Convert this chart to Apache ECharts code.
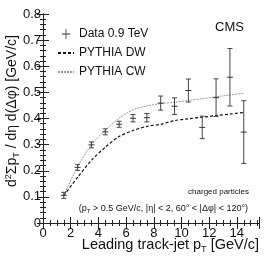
<!DOCTYPE html>
<html><head><meta charset="utf-8">
<script src="https://cdn.jsdelivr.net/npm/echarts@6/dist/echarts.min.js"></script>
<style>html,body{margin:0;padding:0;background:#fff}#c{width:269px;height:259px}</style>
</head><body><div id="c"></div>
<script>
var ptBins = [1.5, 2.5, 3.5, 4.5, 5.5, 6.5, 7.5, 8.5, 9.5, 10.5, 11.5, 12.5, 13.5, 14.5];
var dataY   = [0.106, 0.213, 0.299, 0.349, 0.378, 0.401, 0.403, 0.459, 0.447, 0.507, 0.366, 0.480, 0.558, 0.348];
var dataErr = [0.003, 0.004, 0.004, 0.005, 0.008, 0.014, 0.016, 0.027, 0.032, 0.044, 0.043, 0.072, 0.110, 0.120];
var dwY = [0.105, 0.175, 0.240, 0.290, 0.331, 0.354, 0.370, 0.378, 0.392, 0.399, 0.405, 0.411, 0.417, 0.423];
var cwY = [0.106, 0.215, 0.300, 0.355, 0.401, 0.433, 0.448, 0.457, 0.462, 0.469, 0.476, 0.483, 0.490, 0.497];
var xTickStep = 2, yTickStep = 0.1;

var FONT = 'Liberation Sans';
var chart = echarts.init(document.getElementById('c'), null, {renderer: 'canvas'});

function pairs(xs, ys) { return xs.map(function (x, i) { return [x, ys[i]]; }); }
var errData = ptBins.map(function (x, i) { return [x, dataY[i], dataErr[i]]; });

var axisCommon = {
  min: 0, axisLine: {show: true, lineStyle: {color: '#222', width: 1}},
  axisTick: {show: true, inside: true, length: 6, lineStyle: {color: '#222'}},
  splitLine: {show: false}
};
function ax(extra) { return Object.assign({}, JSON.parse(JSON.stringify(axisCommon)), extra); }
var xMinor = {show: true, splitNumber: 4, length: 3, lineStyle: {color: '#222'}};
var yMinor = {show: true, splitNumber: 5, length: 3, lineStyle: {color: '#222'}};

chart.setOption({
  animation: false,
  grid: {left: 43, right: 10, top: 14, bottom: 36},
  legend: {
    orient: 'vertical', left: 52, top: 23, itemWidth: 16, itemHeight: 10, itemGap: 7,
    textStyle: {fontFamily: FONT, fontSize: 12, color: '#111'},
    data: [
      {name: 'Data 0.9 TeV', icon: 'path://M4.6,0h0.8v10h-0.8zM1,4.6h8v0.8h-8z'},
      {name: 'PYTHIA DW', itemStyle: {opacity: 0}},
      {name: 'PYTHIA CW', itemStyle: {opacity: 0}}
    ]
  },
  xAxis: [
    ax({type: 'value', max: 15.6, interval: xTickStep, minorTick: xMinor,
        axisLabel: {fontFamily: FONT, fontSize: 13, color: '#111', margin: 4, showMaxLabel: false}}),
    ax({type: 'value', position: 'top', max: 15.6, interval: xTickStep, minorTick: xMinor,
        axisLabel: {show: false}})
  ],
  yAxis: [
    ax({type: 'value', max: 0.8, interval: yTickStep, minorTick: yMinor,
        axisLabel: {fontFamily: FONT, fontSize: 13, color: '#111', margin: 2}}),
    ax({type: 'value', position: 'right', max: 0.8, interval: yTickStep, minorTick: yMinor,
        axisLabel: {show: false}})
  ],
  series: [
    {
      name: 'Data 0.9 TeV', type: 'custom', xAxisIndex: 0, yAxisIndex: 0,
      itemStyle: {color: '#333'}, z: 5,
      data: errData,
      renderItem: function (params, api) {
        var x = api.value(0), y = api.value(1), e = api.value(2);
        var c = api.coord([x, y]);
        var top = api.coord([x, y + e])[1], bot = api.coord([x, y - e])[1];
        if (c[1] - top < 3) { top = c[1] - 3; bot = c[1] + 3; }
        var st = {stroke: '#444', lineWidth: 1};
        var cap = 2.5;
        return {type: 'group', children: [
          {type: 'line', shape: {x1: c[0], y1: top, x2: c[0], y2: bot}, style: st},
          {type: 'line', shape: {x1: c[0] - cap, y1: top, x2: c[0] + cap, y2: top}, style: st},
          {type: 'line', shape: {x1: c[0] - cap, y1: bot, x2: c[0] + cap, y2: bot}, style: st},
          {type: 'line', shape: {x1: c[0] - 3, y1: c[1], x2: c[0] + 3, y2: c[1]}, style: {stroke: '#333', lineWidth: 1}}
        ]};
      }
    },
    {
      name: 'PYTHIA DW', type: 'line', smooth: 0.3, symbol: 'none',
      data: pairs(ptBins, dwY), itemStyle: {color: '#111'},
      lineStyle: {color: '#111', width: 1.2, type: [3, 2]}
    },
    {
      name: 'PYTHIA CW', type: 'line', smooth: 0.3, symbol: 'none',
      data: pairs(ptBins, cwY), itemStyle: {color: '#999'},
      lineStyle: {color: '#999', width: 1, type: [2, 1]}
    }
  ],
  graphic: [
    {type: 'text', left: 215, top: 21, style: {text: 'CMS', fontFamily: FONT, fontSize: 13, fill: '#111'}},
    {type: 'text', x: 249, y: 192, style: {text: 'charged particles', fontFamily: FONT, fontSize: 8, fill: '#111', align: 'right', verticalAlign: 'middle'}},
    {type: 'text', x: 248, y: 209, style: {
      text: '(p{s|T} > 0.5 GeV/c, |η| < 2, 60° < |Δφ| < 120°)', fontFamily: FONT, fontSize: 9, fill: '#111', align: 'right', verticalAlign: 'middle',
      rich: {s: {fontFamily: FONT, fontSize: 6, verticalAlign: 'bottom', padding: [5, 0, 0, 0]}}}},
    {type: 'text', x: 259, y: 245, style: {
      text: 'Leading track-jet p{s|T} [GeV/c]', fontFamily: FONT, fontSize: 14.5, fill: '#111', align: 'right', verticalAlign: 'middle',
      rich: {s: {fontFamily: FONT, fontSize: 9, padding: [9, 0, 0, 0]}}}},
    {type: 'text', x: 12, y: 111, rotation: Math.PI / 2, style: {
      text: 'd{p|2}Σp{s|T} / dη d(Δφ) [GeV/c]', fontFamily: FONT, fontSize: 14, fill: '#111', align: 'center', verticalAlign: 'middle',
      rich: {s: {fontFamily: FONT, fontSize: 9, padding: [9, 0, 0, 0]}, p: {fontFamily: FONT, fontSize: 9, padding: [0, 0, 7, 0]}}}}
  ]
});
</script></body></html>
